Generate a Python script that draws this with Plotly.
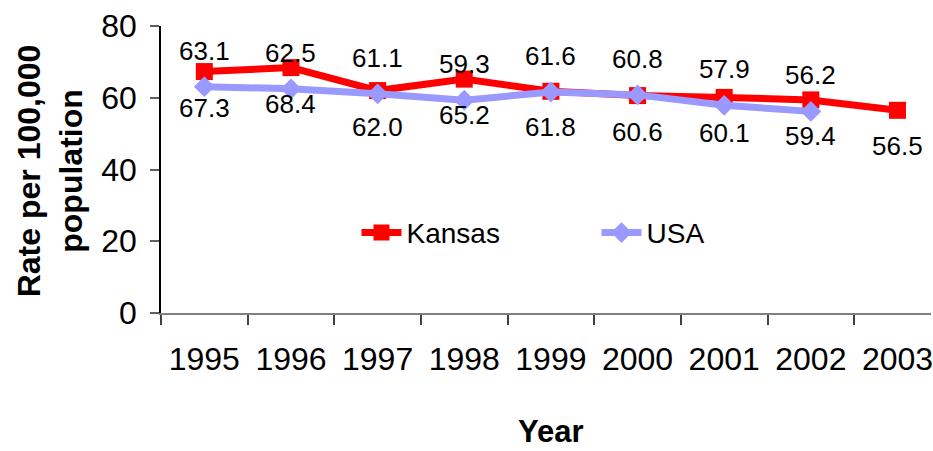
import plotly.graph_objects as go

years = ["1995", "1996", "1997", "1998", "1999", "2000", "2001", "2002", "2003"]
kansas = [67.3, 68.4, 62.0, 65.2, 61.8, 60.6, 60.1, 59.4, 56.5]
usa_years = years[:8]
usa = [63.1, 62.5, 61.1, 59.3, 61.6, 60.8, 57.9, 56.2]

FONT = "Arial, Liberation Sans, sans-serif"
RED = "#FF0000"
LAVENDER = "#9999FF"

fig = go.Figure()
fig.add_trace(go.Scatter(
    x=years, y=kansas, name="Kansas", mode="lines+markers",
    line=dict(color=RED, width=7),
    marker=dict(symbol="square", size=17, color=RED),
))
fig.add_trace(go.Scatter(
    x=usa_years, y=usa, name="USA", mode="lines+markers",
    line=dict(color=LAVENDER, width=7),
    marker=dict(symbol="diamond", size=16, color=LAVENDER),
))

# value labels: Kansas below its points, USA above its points
# (annotations on a category axis are positioned by category index)
annotations = []
for i, v in enumerate(kansas):
    annotations.append(dict(x=i, y=v, text=f"{v:.1f}", showarrow=False,
                            yshift=-36, font=dict(family=FONT, size=26, color="black")))
for i, v in enumerate(usa):
    annotations.append(dict(x=i, y=v, text=f"{v:.1f}", showarrow=False,
                            yshift=36, font=dict(family=FONT, size=26, color="black")))

# axis titles
annotations.append(dict(xref="paper", yref="paper", x=(552 - 161) / 772, y=-(432 - 313.3) / 287.6,
                        xanchor="center", yanchor="middle",
                        text="<b>Year</b>", showarrow=False,
                        font=dict(family=FONT, size=31, color="black")))
annotations.append(dict(xref="paper", yref="paper", x=-(161 - 50) / 772, y=(313.3 - 171) / 287.6,
                        xanchor="center", yanchor="middle",
                        text="<b>Rate per 100,000<br>population</b>", showarrow=False,
                        textangle=-90, font=dict(family=FONT, size=32, color="black")))

fig.update_layout(
    width=933, height=451,
    margin=dict(l=161, r=0, t=26, b=138),
    paper_bgcolor="white", plot_bgcolor="white",
    font=dict(family=FONT, color="black"),
    annotations=annotations,
    showlegend=True,
    legend=dict(
        orientation="h", x=(357 - 161) / 772, y=(313.3 - 233) / 287.6,
        xanchor="left", yanchor="middle",
        font=dict(family=FONT, size=28, color="black"),
        entrywidth=185, bgcolor="rgba(0,0,0,0)", itemwidth=40,
    ),
    xaxis=dict(
        type="category", range=[-0.5, 8.387],
        tickson="boundaries", ticks="outside", ticklen=10, tickwidth=1.5,
        tickcolor="#404040", showline=True, linecolor="#808080", linewidth=2,
        showgrid=False, zeroline=False,
        tickfont=dict(family=FONT, size=32, color="black"),
        ticklabelstandoff=17,
    ),
    yaxis=dict(
        range=[0, 80], tickvals=[0, 20, 40, 60, 80],
        ticks="outside", ticklen=9, tickwidth=1.5, tickcolor="#606060",
        showline=True, linecolor="black", linewidth=1.5,
        showgrid=False, zeroline=False,
        tickfont=dict(family=FONT, size=32, color="black"),
        ticklabelstandoff=7,
    ),
)

fig.write_html("out.html")
